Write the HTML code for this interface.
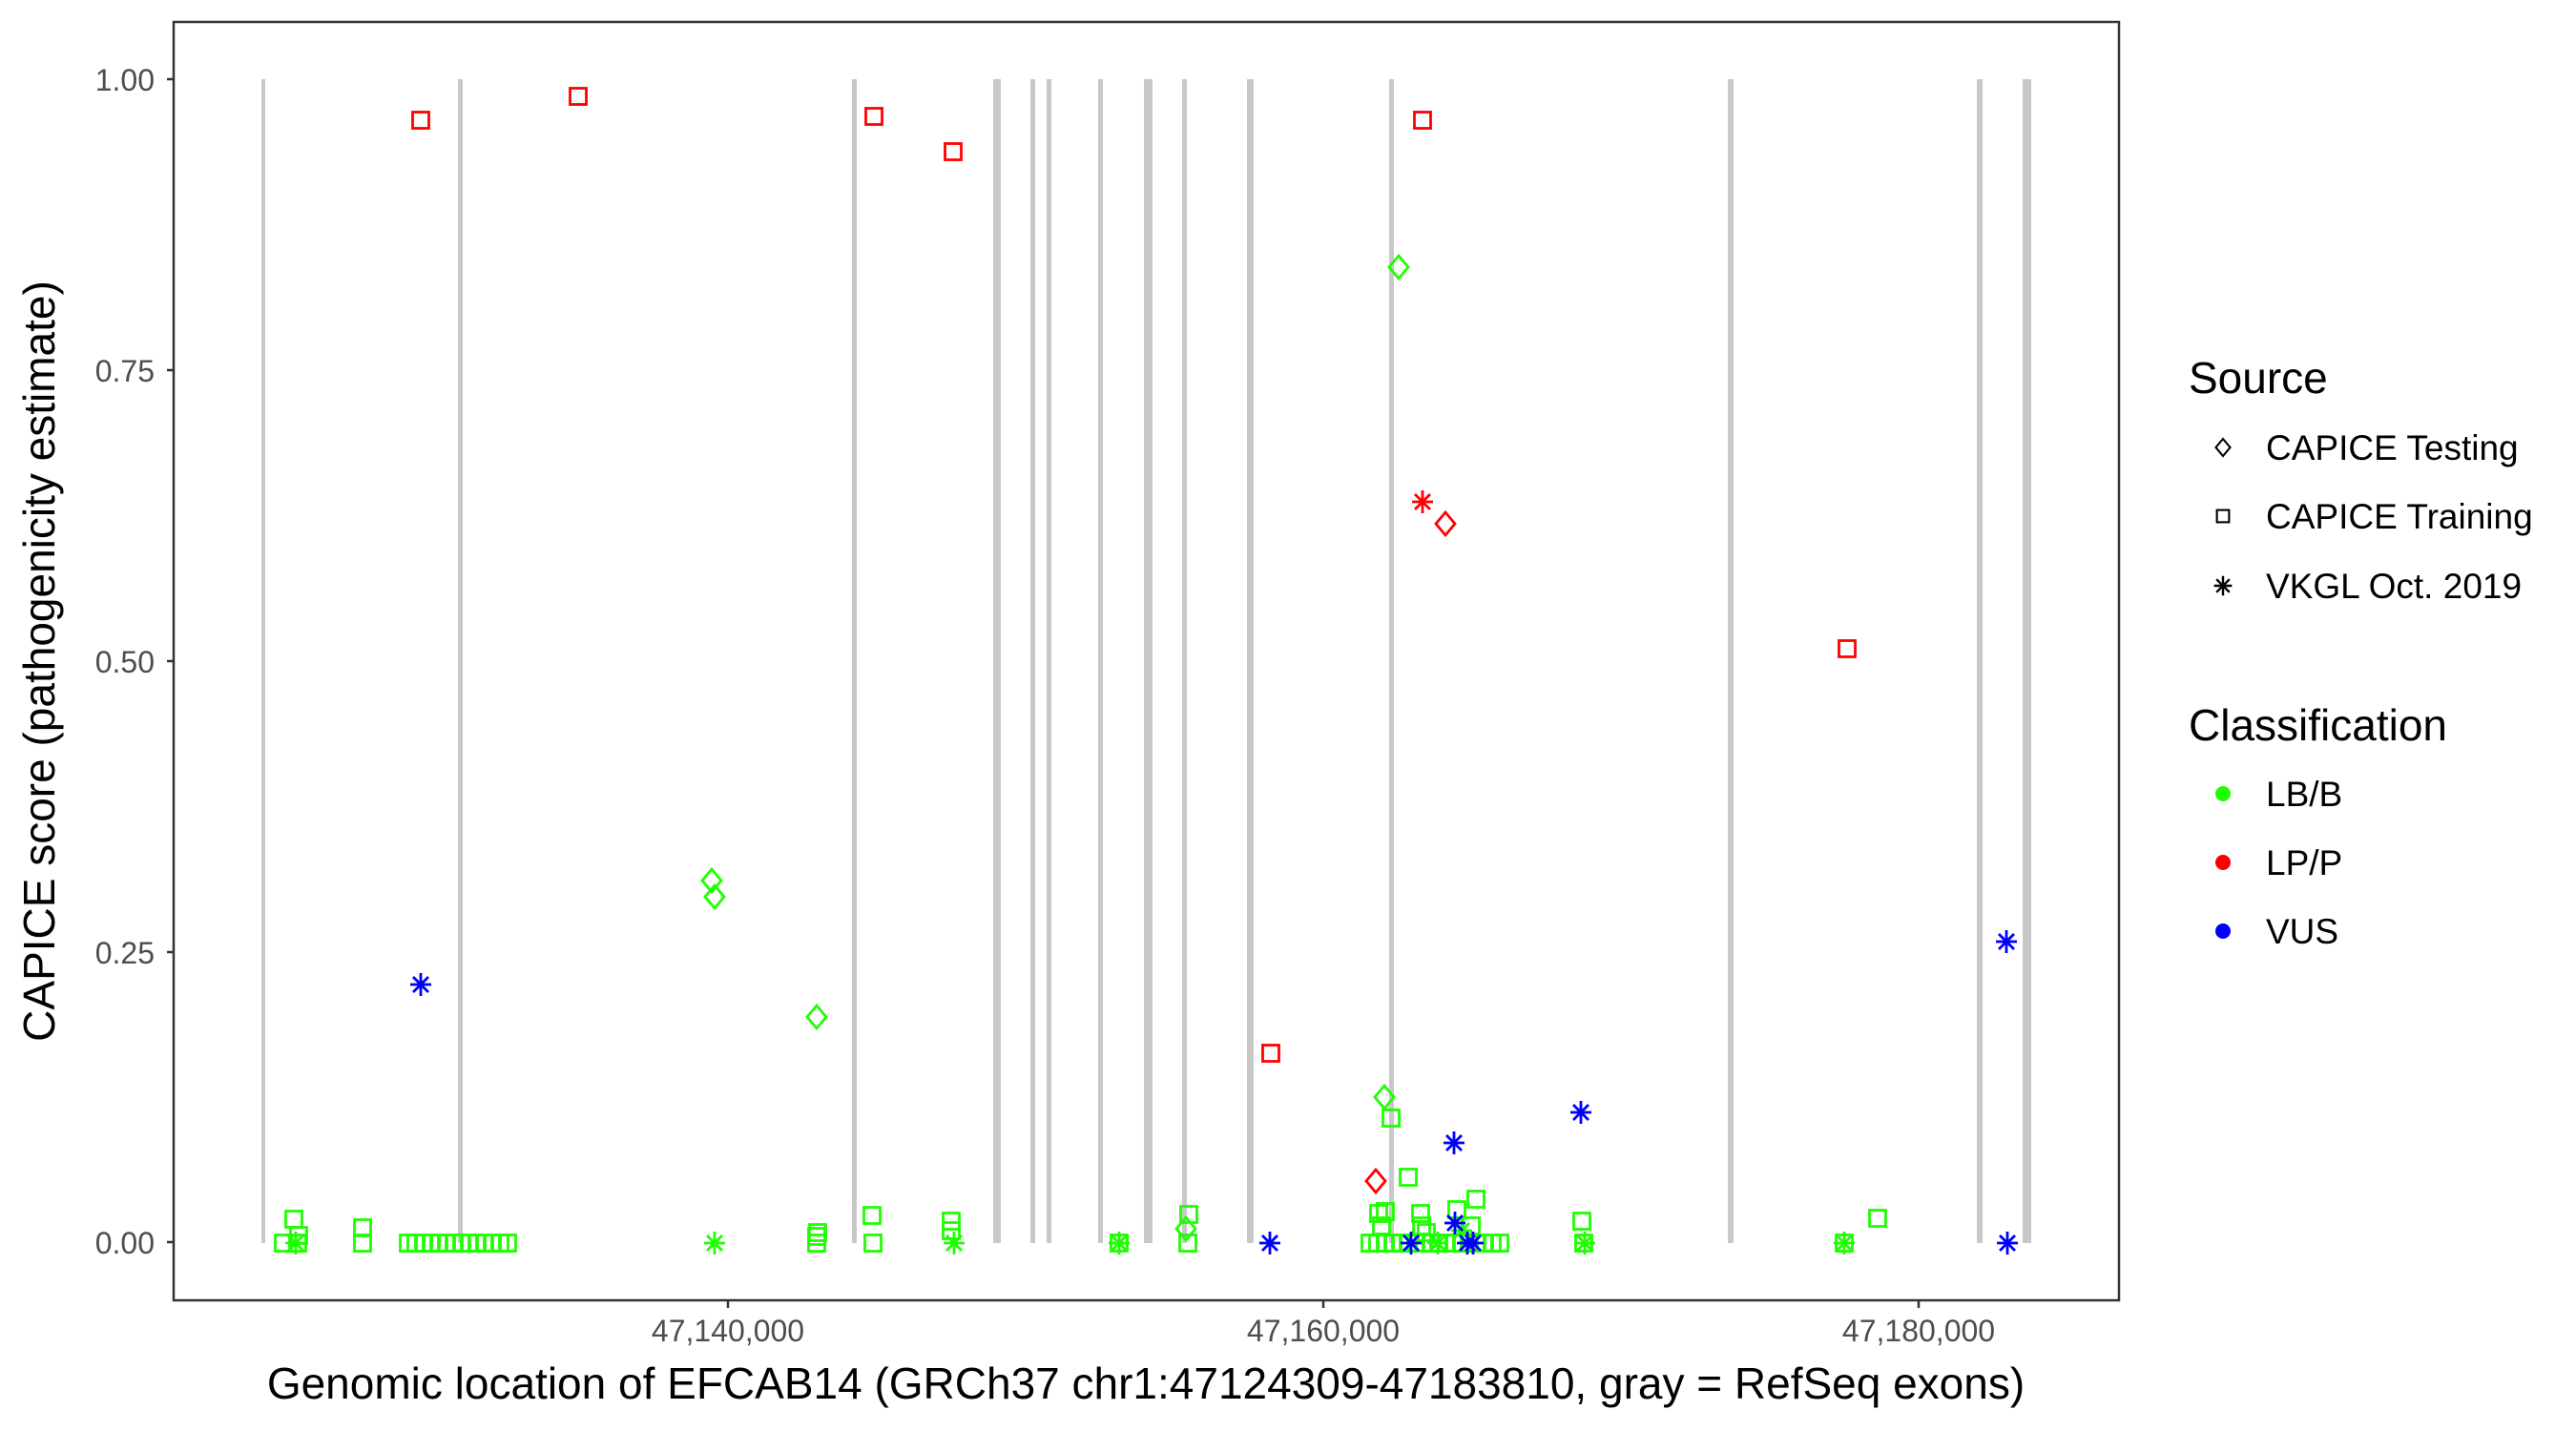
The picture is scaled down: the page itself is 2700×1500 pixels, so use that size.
<!DOCTYPE html>
<html><head><meta charset="utf-8"><style>
html,body{margin:0;padding:0;background:#fff;}
svg{display:block;font-family:"Liberation Sans",sans-serif;}
</style></head><body>
<svg width="2700" height="1500" viewBox="0 0 2700 1500" xmlns="http://www.w3.org/2000/svg">
<defs>
<g id="sq"><rect x="-8.5" y="-8.5" width="17" height="17" fill="none" stroke-width="2.8"/></g>
<g id="di"><path d="M0,-12 L10,0 L0,12 L-10,0 Z" fill="none" stroke-width="2.8"/></g>
<g id="st" stroke-width="2.8"><path d="M0,-12 V12 M-11,0 H11 M-8,-8 L8,8 M-8,8 L8,-8" fill="none"/></g>
</defs>
<rect x="0" y="0" width="2700" height="1500" fill="#fff"/>
<g fill="#c8c8c8">
<rect x="274" y="83" width="4" height="1220"/>
<rect x="480" y="83" width="5" height="1220"/>
<rect x="893" y="83" width="5" height="1220"/>
<rect x="1041" y="83" width="8" height="1220"/>
<rect x="1080" y="83" width="5" height="1220"/>
<rect x="1097" y="83" width="5" height="1220"/>
<rect x="1151" y="83" width="5" height="1220"/>
<rect x="1199" y="83" width="9" height="1220"/>
<rect x="1239" y="83" width="5" height="1220"/>
<rect x="1307" y="83" width="7" height="1220"/>
<rect x="1456" y="83" width="5" height="1220"/>
<rect x="1811" y="83" width="6" height="1220"/>
<rect x="2072" y="83" width="6" height="1220"/>
<rect x="2120" y="83" width="9" height="1220"/>
</g>
<rect x="182" y="23" width="2039" height="1340" fill="none" stroke="#333" stroke-width="2.5"/>
<g stroke="#333" stroke-width="2.5">
<line x1="175" y1="83" x2="182" y2="83"/><line x1="175" y1="388" x2="182" y2="388"/>
<line x1="175" y1="693" x2="182" y2="693"/><line x1="175" y1="998" x2="182" y2="998"/>
<line x1="175" y1="1302" x2="182" y2="1302"/>
<line x1="763" y1="1363" x2="763" y2="1371"/><line x1="1387" y1="1363" x2="1387" y2="1371"/><line x1="2011" y1="1363" x2="2011" y2="1371"/>
</g>
<g fill="#4d4d4d" font-size="32" text-anchor="end">
<text x="162" y="95">1.00</text><text x="162" y="400">0.75</text><text x="162" y="705">0.50</text><text x="162" y="1010">0.25</text><text x="162" y="1314">0.00</text>
</g>
<g fill="#4d4d4d" font-size="32" text-anchor="middle">
<text x="763" y="1406">47,140,000</text><text x="1387" y="1406">47,160,000</text><text x="2011" y="1406">47,180,000</text>
</g>
<text x="1201" y="1466" font-size="46" text-anchor="middle" fill="#000">Genomic location of EFCAB14 (GRCh37 chr1:47124309-47183810, gray = RefSeq exons)</text>
<text transform="translate(57,693) rotate(-90)" font-size="46" text-anchor="middle" fill="#000">CAPICE score (pathogenicity estimate)</text>
<g stroke="#f00">
<use href="#sq" x="441" y="126"/><use href="#sq" x="606" y="101"/><use href="#sq" x="916" y="122"/><use href="#sq" x="999" y="159"/>
<use href="#sq" x="1491" y="126"/><use href="#sq" x="1936" y="680"/><use href="#sq" x="1332" y="1104"/>
<use href="#st" x="1491" y="526"/><use href="#di" x="1515" y="549"/><use href="#di" x="1442" y="1238"/>
</g>
<g stroke="#1eff00">
<use href="#di" x="1466" y="280"/><use href="#di" x="746" y="923"/><use href="#di" x="749" y="940"/><use href="#di" x="856" y="1066"/>
<use href="#di" x="1451" y="1150"/><use href="#sq" x="1458" y="1172"/><use href="#sq" x="1476" y="1234"/>
<use href="#sq" x="308" y="1278"/><use href="#sq" x="297" y="1303"/><use href="#sq" x="312" y="1303"/><use href="#sq" x="313" y="1295"/><use href="#st" x="310" y="1303"/>
<use href="#sq" x="380" y="1287"/><use href="#sq" x="380" y="1303"/>
<use href="#sq" x="428" y="1303"/><use href="#sq" x="436" y="1303"/><use href="#sq" x="444" y="1303"/><use href="#sq" x="452" y="1303"/><use href="#sq" x="460" y="1303"/><use href="#sq" x="468" y="1303"/><use href="#sq" x="476" y="1303"/><use href="#sq" x="484" y="1303"/><use href="#sq" x="492" y="1303"/><use href="#sq" x="500" y="1303"/><use href="#sq" x="508" y="1303"/><use href="#sq" x="516" y="1303"/><use href="#sq" x="524" y="1303"/><use href="#sq" x="532" y="1303"/>
<use href="#st" x="749" y="1303"/>
<use href="#sq" x="856" y="1303"/><use href="#sq" x="856" y="1296"/><use href="#sq" x="857" y="1292"/>
<use href="#sq" x="914" y="1274"/><use href="#sq" x="915" y="1303"/>
<use href="#sq" x="997" y="1280"/><use href="#sq" x="997" y="1290"/><use href="#st" x="1000" y="1303"/>
<use href="#sq" x="1173" y="1303"/><use href="#st" x="1173" y="1303"/>
<use href="#sq" x="1246" y="1273"/><use href="#di" x="1243" y="1288"/><use href="#sq" x="1245" y="1303"/>
<use href="#sq" x="1445" y="1272"/><use href="#sq" x="1452" y="1270"/><use href="#sq" x="1448" y="1285"/><use href="#sq" x="1489" y="1272"/><use href="#sq" x="1527" y="1268"/><use href="#sq" x="1547" y="1257"/><use href="#sq" x="1542" y="1285"/><use href="#sq" x="1490" y="1285"/><use href="#sq" x="1495" y="1292"/>
<use href="#sq" x="1436" y="1303"/><use href="#sq" x="1444" y="1303"/><use href="#sq" x="1452" y="1303"/><use href="#sq" x="1460" y="1303"/><use href="#sq" x="1468" y="1303"/><use href="#sq" x="1476" y="1303"/><use href="#sq" x="1484" y="1303"/><use href="#sq" x="1492" y="1303"/><use href="#sq" x="1500" y="1303"/><use href="#sq" x="1508" y="1303"/><use href="#sq" x="1516" y="1303"/><use href="#sq" x="1524" y="1303"/><use href="#sq" x="1532" y="1303"/><use href="#sq" x="1540" y="1303"/><use href="#sq" x="1548" y="1303"/><use href="#sq" x="1556" y="1303"/><use href="#sq" x="1564" y="1303"/><use href="#sq" x="1572" y="1303"/>
<use href="#st" x="1507" y="1303"/><use href="#st" x="1532" y="1290"/>
<use href="#sq" x="1658" y="1280"/><use href="#sq" x="1660" y="1303"/><use href="#st" x="1661" y="1303"/>
<use href="#sq" x="1933" y="1303"/><use href="#st" x="1933" y="1303"/><use href="#sq" x="1968" y="1277"/>
</g>
<g stroke="#00f">
<use href="#st" x="441" y="1032"/><use href="#st" x="2103" y="987"/><use href="#st" x="1657" y="1166"/><use href="#st" x="1524" y="1198"/>
<use href="#st" x="1331" y="1303"/><use href="#st" x="1479" y="1303"/><use href="#st" x="1525" y="1282"/><use href="#st" x="1538" y="1303"/><use href="#st" x="1544" y="1303"/><use href="#st" x="2104" y="1303"/>
</g>
<text x="2294" y="412" font-size="46" fill="#000">Source</text>
<g stroke="#000" transform="translate(2330,469) scale(0.75)"><use href="#di"/></g>
<g stroke="#000" transform="translate(2330,541) scale(0.75)"><use href="#sq"/></g>
<g stroke="#000" transform="translate(2330,614) scale(0.85)"><use href="#st"/></g>
<g font-size="37" fill="#000">
<text x="2375" y="482">CAPICE Testing</text><text x="2375" y="554">CAPICE Training</text><text x="2375" y="627">VKGL Oct. 2019</text>
</g>
<text x="2294" y="776" font-size="46" fill="#000">Classification</text>
<circle cx="2330" cy="832" r="8" fill="#1eff00"/><circle cx="2330" cy="904" r="8" fill="#f00"/><circle cx="2330" cy="976" r="8" fill="#00f"/>
<g font-size="37" fill="#000">
<text x="2375" y="845">LB/B</text><text x="2375" y="917">LP/P</text><text x="2375" y="989">VUS</text>
</g>
</svg>
</body></html>
